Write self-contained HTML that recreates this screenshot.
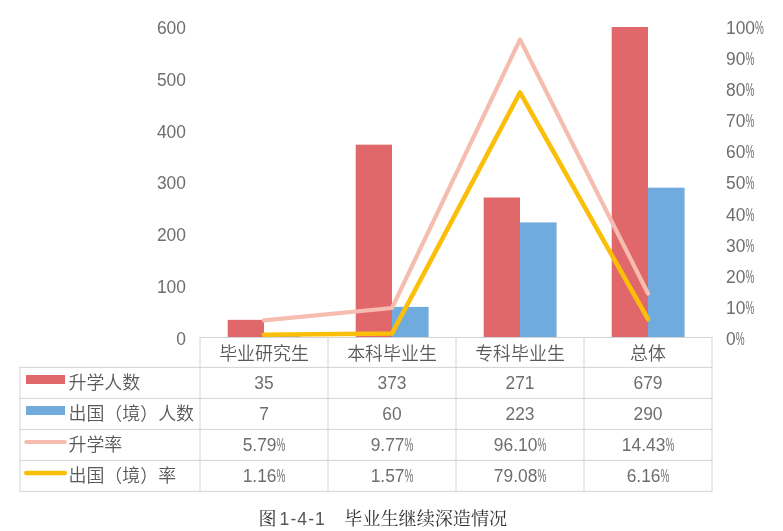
<!DOCTYPE html>
<html lang="zh-CN">
<head>
<meta charset="utf-8">
<title>图 1-4-1 毕业生继续深造情况</title>
<style>
html,body{margin:0;padding:0;background:#fff;}
body{width:783px;height:531px;position:relative;overflow:hidden;font-family:"Liberation Sans","Noto Sans CJK SC",sans-serif;font-weight:350;color:#595959;font-size:17.95px;}
svg{position:absolute;left:0;top:0;}
div{position:absolute;white-space:nowrap;}
.ax{height:24px;line-height:24px;}
.ax.l{left:100px;width:85.5px;text-align:right;}
.ax.r{left:726px;text-align:left;}
.cell{width:128px;height:31px;line-height:31px;text-align:center;}
.hd{transform:translateY(0.6px);}
.lab{left:68.5px;height:31px;line-height:31px;transform:translateY(0.7px);}
.n{display:inline-block;font-weight:400;color:#6e6e6e;position:relative;top:0.5px;transform:scaleX(0.97);transform-origin:center center;line-height:1;}
.n i{display:inline-block;font-style:normal;width:9px;transform:scaleX(0.57);transform-origin:left center;}
.ax.l .n{transform-origin:right center;}
.ax.r .n{transform-origin:left center;}
.cap{left:0;width:783px;top:505px;height:26px;line-height:26px;transform:translateY(1.1px);font-size:18.1px;font-family:"Liberation Serif","Noto Serif CJK SC",serif;font-weight:400;color:#333;}
</style>
</head>
<body>
<svg width="783" height="531" viewBox="0 0 783 531">
<rect x="227.70" y="319.86" width="36.30" height="18.14" fill="#e0676a"/>
<rect x="264.00" y="334.37" width="36.60" height="3.63" fill="#6fabdc"/>
<rect x="355.70" y="144.66" width="36.30" height="193.34" fill="#e0676a"/>
<rect x="392.00" y="306.90" width="36.60" height="31.10" fill="#6fabdc"/>
<rect x="483.70" y="197.53" width="36.30" height="140.47" fill="#e0676a"/>
<rect x="520.00" y="222.41" width="36.60" height="115.59" fill="#6fabdc"/>
<rect x="611.70" y="27.00" width="36.30" height="311.00" fill="#e0676a"/>
<rect x="648.00" y="187.68" width="36.60" height="150.32" fill="#6fabdc"/>
<g stroke="#d4d4d4" stroke-width="1" fill="none">
<line x1="200.0" y1="337.5" x2="712.5" y2="337.5"/>
<line x1="19.5" y1="367.4" x2="712.5" y2="367.4"/>
<line x1="19.5" y1="398.4" x2="712.5" y2="398.4"/>
<line x1="19.5" y1="429.4" x2="712.5" y2="429.4"/>
<line x1="19.5" y1="460.4" x2="712.5" y2="460.4"/>
<line x1="19.5" y1="491.4" x2="712.5" y2="491.4"/>
<line x1="20" y1="366.9" x2="20" y2="491.9"/>
<line x1="200.0" y1="337.0" x2="200.0" y2="491.9"/>
<line x1="328.0" y1="337.0" x2="328.0" y2="491.9"/>
<line x1="456.0" y1="337.0" x2="456.0" y2="491.9"/>
<line x1="584.0" y1="337.0" x2="584.0" y2="491.9"/>
<line x1="712.0" y1="337.0" x2="712.0" y2="491.9"/>
</g>
<polyline points="264.00,320.39 392.00,308.02 520.00,39.53 648.00,293.52" fill="none" stroke="#f5bcaf" stroke-width="4.2" stroke-linejoin="round" stroke-linecap="round"/>
<polyline points="264.00,334.79 392.00,333.52 520.00,92.46 648.00,319.24" fill="none" stroke="#fcbf09" stroke-width="4.6" stroke-linejoin="round" stroke-linecap="round"/>
<rect x="26" y="375" width="39" height="9" fill="#e0676a"/>
<rect x="26" y="406" width="39" height="9" fill="#6fabdc"/>
<line x1="26.3" y1="442" x2="64.8" y2="442" stroke="#f5bcaf" stroke-width="4.2" stroke-linecap="round"/>
<line x1="26.3" y1="473" x2="64.8" y2="473" stroke="#fcbf09" stroke-width="4.6" stroke-linecap="round"/>
</svg>
<div class="ax l" style="top:326.20px"><span class="n">0</span></div>
<div class="ax l" style="top:274.45px"><span class="n">100</span></div>
<div class="ax l" style="top:222.70px"><span class="n">200</span></div>
<div class="ax l" style="top:170.95px"><span class="n">300</span></div>
<div class="ax l" style="top:119.20px"><span class="n">400</span></div>
<div class="ax l" style="top:67.45px"><span class="n">500</span></div>
<div class="ax l" style="top:15.70px"><span class="n">600</span></div>
<div class="ax r" style="top:326.20px"><span class="n">0<i>%</i></span></div>
<div class="ax r" style="top:295.15px"><span class="n">10<i>%</i></span></div>
<div class="ax r" style="top:264.10px"><span class="n">20<i>%</i></span></div>
<div class="ax r" style="top:233.05px"><span class="n">30<i>%</i></span></div>
<div class="ax r" style="top:202.00px"><span class="n">40<i>%</i></span></div>
<div class="ax r" style="top:170.95px"><span class="n">50<i>%</i></span></div>
<div class="ax r" style="top:139.90px"><span class="n">60<i>%</i></span></div>
<div class="ax r" style="top:108.85px"><span class="n">70<i>%</i></span></div>
<div class="ax r" style="top:77.80px"><span class="n">80<i>%</i></span></div>
<div class="ax r" style="top:46.75px"><span class="n">90<i>%</i></span></div>
<div class="ax r" style="top:15.70px"><span class="n">100<i>%</i></span></div>
<div class="cell hd" style="left:200.0px;top:337.5px;height:30px;line-height:30px">毕业研究生</div>
<div class="cell hd" style="left:328.0px;top:337.5px;height:30px;line-height:30px">本科毕业生</div>
<div class="cell hd" style="left:456.0px;top:337.5px;height:30px;line-height:30px">专科毕业生</div>
<div class="cell hd" style="left:584.0px;top:337.5px;height:30px;line-height:30px">总体</div>
<div class="lab" style="top:367.4px">升学人数</div>
<div class="cell" style="left:200.0px;top:367.4px"><span class="n">35</span></div>
<div class="cell" style="left:328.0px;top:367.4px"><span class="n">373</span></div>
<div class="cell" style="left:456.0px;top:367.4px"><span class="n">271</span></div>
<div class="cell" style="left:584.0px;top:367.4px"><span class="n">679</span></div>
<div class="lab" style="top:398.4px">出国（境）人数</div>
<div class="cell" style="left:200.0px;top:398.4px"><span class="n">7</span></div>
<div class="cell" style="left:328.0px;top:398.4px"><span class="n">60</span></div>
<div class="cell" style="left:456.0px;top:398.4px"><span class="n">223</span></div>
<div class="cell" style="left:584.0px;top:398.4px"><span class="n">290</span></div>
<div class="lab" style="top:429.4px">升学率</div>
<div class="cell" style="left:200.0px;top:429.4px"><span class="n">5.79<i>%</i></span></div>
<div class="cell" style="left:328.0px;top:429.4px"><span class="n">9.77<i>%</i></span></div>
<div class="cell" style="left:456.0px;top:429.4px"><span class="n">96.10<i>%</i></span></div>
<div class="cell" style="left:584.0px;top:429.4px"><span class="n">14.43<i>%</i></span></div>
<div class="lab" style="top:460.4px">出国（境）率</div>
<div class="cell" style="left:200.0px;top:460.4px"><span class="n">1.16<i>%</i></span></div>
<div class="cell" style="left:328.0px;top:460.4px"><span class="n">1.57<i>%</i></span></div>
<div class="cell" style="left:456.0px;top:460.4px"><span class="n">79.08<i>%</i></span></div>
<div class="cell" style="left:584.0px;top:460.4px"><span class="n">6.16<i>%</i></span></div>
<div class="cap"><span style="position:absolute;left:258.4px">图</span><span style="position:absolute;left:279.6px;font-family:'Liberation Sans',sans-serif;font-size:17.5px;letter-spacing:1.1px;color:#555">1-4-1</span><span style="position:absolute;left:344.3px">毕业生继续深造情况</span></div>
</body>
</html>
